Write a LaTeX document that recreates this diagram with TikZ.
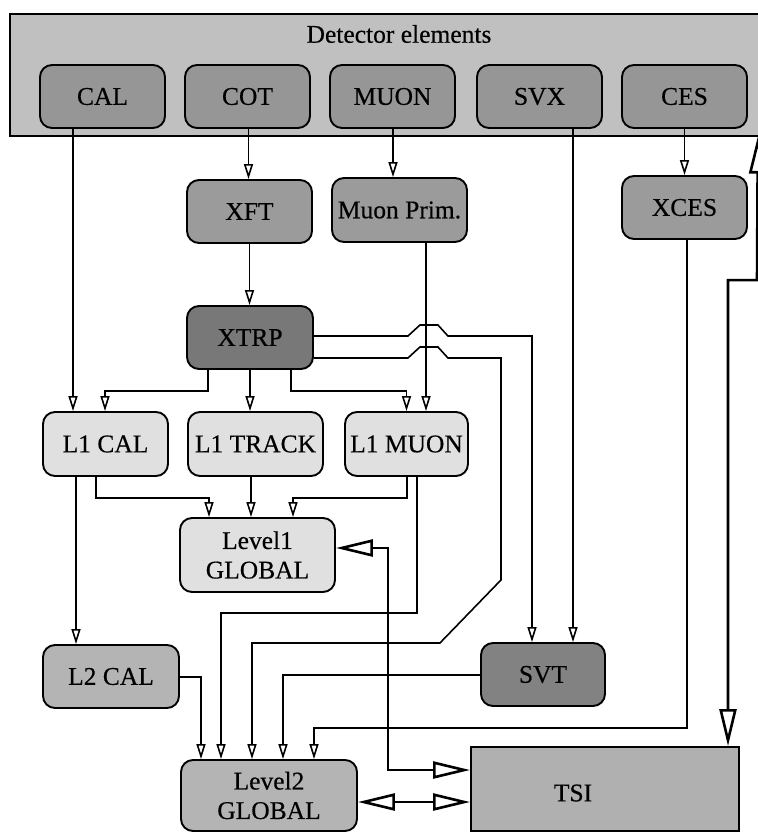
\documentclass[tikz,border=0pt]{standalone}
\usepackage{fontspec}
\setmainfont{Liberation Serif}[FakeBold=0.4]
\usetikzlibrary{arrows.meta}
\definecolor{barc}{RGB}{192,192,192}
\definecolor{detc}{RGB}{150,150,150}
\definecolor{midc}{RGB}{155,155,155}
\definecolor{darkc}{RGB}{120,120,120}
\definecolor{svtc}{RGB}{130,130,130}
\definecolor{lightc}{RGB}{224,224,224}
\definecolor{l2c}{RGB}{180,180,180}
\definecolor{tsic}{RGB}{176,176,176}
\begin{document}
\begin{tikzpicture}[x=1pt,y=-1pt,
  txt/.style={font=\fontsize{25.5}{29.5}\selectfont},
  box/.style={draw=black, line width=1.9pt, rounded corners=12pt, inner sep=0pt,
              font=\fontsize{25.5}{29.5}\selectfont, align=center, minimum height=63pt},
  conn/.style={line width=1.6pt, -{Triangle[open,length=15pt,width=9pt]}},
  big/.style={line width=2.6pt, {Triangle[open,length=37pt,width=17pt]}-{Triangle[open,length=37pt,width=17pt]}}
]
\useasboundingbox (0,0) rectangle (758,833);
\clip (0,0) rectangle (758,833);

% detector bar
\node[draw=black, fill=barc, line width=1.6pt, minimum width=761pt, minimum height=122pt,
      inner sep=0pt, anchor=north west] (bar) at (9,13) {};
\node[txt] (dettext) at (399,34) {Detector elements};

% top row
\node[box, fill=detc, minimum width=125pt] (cal)  at (102.5,96.5) {CAL};
\node[box, fill=detc, minimum width=125pt] (cot)  at (247.5,96.5) {COT};
\node[box, fill=detc, minimum width=125pt] (muon) at (392.5,96.5) {MUON};
\node[box, fill=detc, minimum width=125pt] (svx)  at (539.5,96.5) {SVX};
\node[box, fill=detc, minimum width=125pt] (ces)  at (684.5,96.5) {CES};

% second row
\node[box, fill=midc, minimum width=125pt] (xft)   at (249.5,211.5) {XFT};
\node[box, fill=midc, minimum width=135pt, minimum height=64pt] (mprim) at (399.5,210) {Muon Prim.};
\node[box, fill=midc, minimum width=125pt] (xces)  at (684.5,207.5) {XCES};

\node[box, fill=darkc, minimum width=126pt] (xtrp) at (250,337.5) {XTRP};

% level 1
\node[box, fill=lightc, minimum width=125pt, minimum height=64pt] (l1cal)   at (105.5,444) {L1 CAL};
\node[box, fill=lightc, minimum width=135pt, minimum height=64pt] (l1track) at (255.5,444) {L1 TRACK};
\node[box, fill=lightc, minimum width=123pt, minimum height=64pt] (l1muon)  at (406.5,444) {L1 MUON};
\node[box, fill=lightc, minimum width=155pt, minimum height=74pt] (level1)  at (257.5,555) {Level1\\GLOBAL};

% level 2
\node[box, fill=l2c, minimum width=136pt] (l2cal) at (111,676.5) {L2 CAL};
\node[box, fill=svtc, minimum width=124pt] (svt) at (543,674.5) {SVT};
\node[box, fill=l2c, minimum width=176pt, minimum height=71pt] (level2) at (269,795.5) {Level2\\GLOBAL};

\node[draw=black, fill=tsic, line width=1.9pt, minimum width=268pt, minimum height=84pt,
      inner sep=0pt] (tsi) at (605,789) {};
\node[txt] (tsitext) at (573,793) {TSI};

% connectors from detector elements
\draw[conn] ([xshift=-29.5pt]cal.south) -- ([xshift=-32.5pt]l1cal.north);
\draw[conn] ([xshift=1pt]cot.south) -- ([xshift=-1pt]xft.north);
\draw[conn] ([xshift=0.5pt]muon.south) -- ([xshift=-6.5pt]mprim.north);
\draw[conn] ([xshift=33.5pt]svx.south) -- ([xshift=30pt]svt.north);
\draw[conn] (ces.south) -- (xces.north);

\draw[conn] (xft.south) -- ([xshift=-0.5pt]xtrp.north);
\draw[conn] ([xshift=26.5pt]mprim.south) -- ([xshift=19.5pt]l1muon.north);

% XTRP outputs
\draw[conn] ([xshift=-42pt]xtrp.south) -- ++(0,21) -| ([xshift=-0.5pt]l1cal.north);
\draw[conn] (xtrp.south) -- ([xshift=-5.5pt]l1track.north);
\draw[conn] ([xshift=41pt]xtrp.south) -- ++(0,21) -| (l1muon.north);
\draw[conn] ([yshift=1.5pt]xtrp.east) -- ++(94,0) -- ++(12,-11) -- ++(18,0) -- ++(10,11)
            -| ([xshift=-11pt]svt.north);
\draw[conn] ([yshift=-20.5pt]xtrp.east) -- ++(94,0) -- ++(12,-11) -- ++(18,0) -- ++(10,11)
            -- ++(53,0) -- ++(0,222) -- ++(-61,63) -| ([xshift=-17pt]level2.north);

% level 1 to global
\draw[conn] ([xshift=-9.5pt]l1cal.south) -- ++(0,21) -| ([xshift=-48.5pt]level1.north);
\draw[conn] ([xshift=-4.5pt]l1track.south) -- ([xshift=-6.5pt]level1.north);
\draw[conn] ([xshift=0.5pt]l1muon.south) -- ++(0,21) -| ([xshift=35.5pt]level1.north);

% to level 2
\draw[conn] ([xshift=-29.5pt]l1cal.south) -- ([xshift=-35pt]l2cal.north);
\draw[conn] ([xshift=10.5pt]l1muon.south) -- ++(0,136) -| ([xshift=-48pt]level2.north);
\draw[conn] ([yshift=-0.5pt]l2cal.east) -| ([xshift=-68pt]level2.north);
\draw[conn] ([yshift=-0.5pt]svt.west) -| ([xshift=14pt]level2.north);
\draw[conn] ([xshift=2.5pt]xces.south) -- ++(0,488) -| ([xshift=45pt]level2.north);

% thick TSI links
\draw[big] ([yshift=7pt]level1.east) -- ++(52,0) |- ([yshift=19pt]tsi.west);
\draw[big] ([yshift=-6.5pt]level2.east) -- ([yshift=-13pt]tsi.west);
\draw[big] ([xshift=123pt]tsi.north) -- ++(0,-466) -- ++(29,0) -- ([xshift=367.5pt]bar.south);
\end{tikzpicture}
\end{document}
